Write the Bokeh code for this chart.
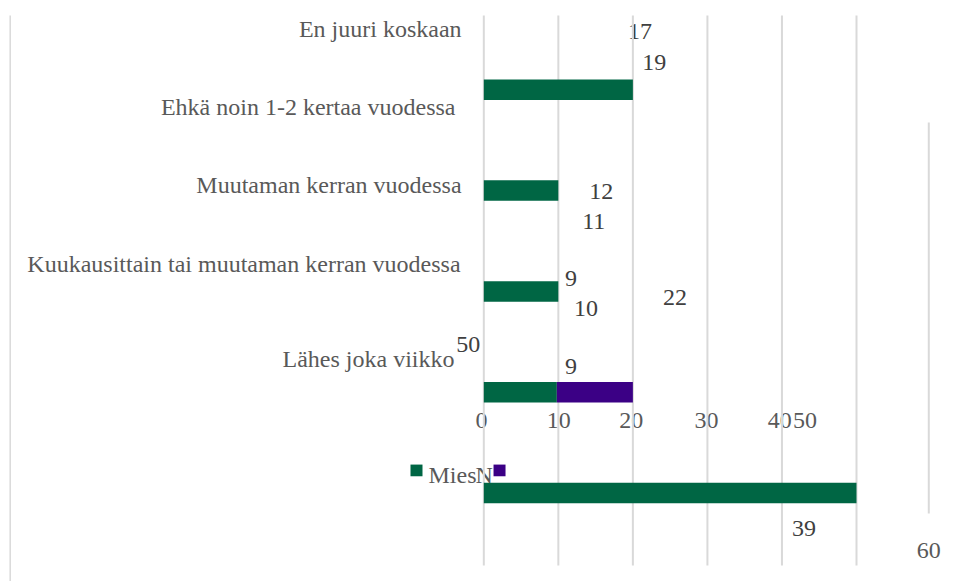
from bokeh.plotting import figure
from bokeh.models import Range1d, ColumnDataSource
from bokeh.core.properties import value
from bokeh.embed import file_html
from bokeh.resources import INLINE

# ---------------- data ----------------
categories = ["En juuri koskaan",
              "Ehkä noin 1-2 kertaa vuodessa",
              "Muutaman kerran vuodessa",
              "Kuukausittain tai muutaman kerran vuodessa",
              "Lähes joka viikko"]
series_names = ["Mies", "N"]
mies_bar = [20, 10, 10, 9.8, 50]          # green bar lengths (rows 0..4)
nainen_bar = [0, 0, 0, 10.2, 0]           # purple bar lengths
value_labels = ["17", "19", "12", "11", "9", "10", "22", "9", "50", "39", "60"]
tick_values = [0, 10, 20, 30, 40, 50]
tick_labels = ["0", "10", "20", "30", "40", "50"]

# ---------------- layout (data units) ----------------
bar_rows = [0, 1, 2, 3, 4]
bar_height = 0.2034

cat_x = [-2.98, -3.80, -2.98, -3.12, -3.93]
cat_y = [-0.60, 0.175, 0.949, 1.732, 2.672]

val_x = [19.35, 21.25, 14.15, 13.2, 10.9, 12.1, 24.05, 10.9, -3.70, 41.35]
val_y = [-0.579, -0.271, 1.008, 1.306, 1.871, 2.169, 2.060, 2.744, 2.526, 4.351]

tick_x = [-0.31, 10.06, 19.78, 29.88, 39.7, 43.1]
tick_y = 3.280
extra_tick_x, extra_tick_y = 59.70, 4.570
legend_text_y = 3.826

grid_y0, grid_y1 = -0.737, 4.719

fig = figure(width=959, height=581, output_backend="svg", toolbar_location=None,
             x_range=Range1d(-64.84, 63.82), y_range=Range1d(4.878, -0.886),
             x_axis_type=None, y_axis_type=None, min_border=0)
fig.outline_line_color = None
fig.xgrid.visible = False
fig.ygrid.visible = False
fig.background_fill_color = "white"
fig.border_fill_color = "white"

FONT = value("Liberation Serif")
GRAY = "#595959"
DARK = "#404040"
GREEN = "#006644"
PURPLE = "#3B0085"

# category labels
fig.text(x=cat_x, y=cat_y, text=categories, text_align="right", text_baseline="alphabetic",
         text_font=FONT, text_font_size="24px", text_color=GRAY)

# value labels
fig.text(x=val_x, y=val_y, text=value_labels[:10], text_align="left", text_baseline="alphabetic",
         text_font=FONT, text_font_size="24px", text_color=DARK)

# tick labels
fig.text(x=tick_x, y=[tick_y] * 6, text=tick_labels, text_align="center",
         text_baseline="alphabetic", text_font=FONT, text_font_size="24px", text_color=GRAY)
fig.text(x=[extra_tick_x], y=[extra_tick_y], text=[value_labels[10]], text_align="center",
         text_baseline="alphabetic", text_font=FONT, text_font_size="24px", text_color=GRAY)

# legend texts
fig.text(x=[-7.42], y=[legend_text_y], text=[series_names[0]], text_align="left",
         text_baseline="alphabetic", text_font=FONT, text_font_size="24px", text_color=GRAY)
fig.text(x=[-1.11], y=[legend_text_y], text=[series_names[1]], text_align="left",
         text_baseline="alphabetic", text_font=FONT, text_font_size="24px", text_color=GRAY)

# gridlines
fig.segment(x0=tick_values, y0=[grid_y0] * 6, x1=tick_values, y1=[grid_y1] * 6,
            line_color="#d9d9d9", line_width=2)
fig.segment(x0=[-63.54], y0=[grid_y0], x1=[-63.54], y1=[4.90], line_color="#d9d9d9", line_width=1.5)
fig.segment(x0=[59.70], y0=[0.325], x1=[59.70], y1=[4.203], line_color="#d9d9d9", line_width=2)

# bars
src = ColumnDataSource(dict(y=bar_rows, mies=mies_bar))
fig.hbar(y="y", left=0, right="mies", height=bar_height, source=src,
         fill_color=GREEN, line_color=None)
rows_n = [r for r, n in zip(bar_rows, nainen_bar) if n > 0]
left_n = [m for m, n in zip(mies_bar, nainen_bar) if n > 0]
right_n = [m + n for m, n in zip(mies_bar, nainen_bar) if n > 0]
fig.hbar(y=rows_n, left=left_n, right=right_n, height=bar_height,
         fill_color=PURPLE, line_color=None)

# legend squares
fig.rect(x=[-9.03], y=[3.776], width=1.61, height=0.116, fill_color=GREEN, line_color=None)
fig.rect(x=[2.11], y=[3.776], width=1.61, height=0.116, fill_color=PURPLE, line_color=None)

open("out.html", "w").write(file_html(fig, INLINE))
